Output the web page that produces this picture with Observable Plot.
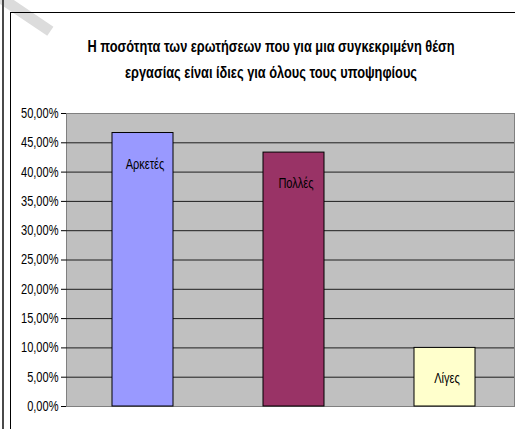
<!DOCTYPE html>
<html>
<head>
<meta charset="utf-8">
<script src="https://cdn.jsdelivr.net/npm/d3@7"></script>
<script src="https://cdn.jsdelivr.net/npm/@observablehq/plot@0.6"></script>
<style>
  html, body { margin: 0; padding: 0; background: #fff; }
  #page { position: relative; width: 515px; height: 429px; overflow: hidden; background: #fff; }
  #edge { position: absolute; left: 2px; top: 0; width: 2px; height: 429px; background: #4a4a4a; }
  #box { position: absolute; left: 10px; top: 12px; width: 560px; height: 500px;
         border-top: 1.5px solid #000; border-left: 1.5px solid #000; }
  .mark { position: absolute; background: #dcdcdc; }
  #title { position: absolute; left: 0; top: 34px; width: 542px; text-align: center;
           font-family: "Liberation Sans", Arial, sans-serif;
           font-weight: bold; font-size: 15.6px; line-height: 26px; color: #000;
           transform: scaleX(0.82); transform-origin: 271px 0; }
  #chart { position: absolute; left: 0; top: 0; }
</style>
</head>
<body>
<div id="page">
  <div class="mark" style="left:2px;top:-8px;width:62px;height:11px;transform:rotate(34deg);transform-origin:0 0;"></div>
  <div id="edge"></div>
  <div id="box"></div>
  <div id="title">Η ποσότητα των ερωτήσεων που για μια συγκεκριμένη θέση<br>εργασίας είναι ίδιες για όλους τους υποψηφίους</div>
  <div id="chart"></div>
</div>
<script>
// Answer categories and their share of responses (percent)
const categories = ["Αρκετές", "Πολλές", "Λίγες"];
const shares = [46.67, 43.33, 10.00];
const barColors = ["#9999FF", "#993366", "#FFFFCC"];
const yTicks = [0, 5, 10, 15, 20, 25, 30, 35, 40, 45, 50];

const rows = categories.map((c, i) => ({category: c, value: shares[i]}));
const pct = d => d.toFixed(2).replace(".", ",") + "%";
const font = "'Liberation Sans', Arial, sans-serif";

const chart = Plot.plot({
  width: 515,
  height: 429,
  marginTop: 113,
  marginBottom: 23,
  marginLeft: 66,
  marginRight: 1,
  style: {fontFamily: font, fontSize: "14px", color: "#000", background: "transparent"},
  x: {domain: categories, range: [66, 520], paddingInner: 0.597, paddingOuter: 0.3, axis: null},
  y: {domain: [0, 50]},
  color: {domain: categories, range: barColors},
  marks: [
    Plot.frame({fill: "#C0C0C0", stroke: "#808080"}),
    Plot.ruleY(yTicks.filter(t => t > 0 && t < 50), {stroke: "#000", strokeOpacity: 0.85}),
    Plot.axisY({ticks: yTicks, tickFormat: pct, tickSize: 5, tickPadding: 3, label: null, fontSize: 14}),
    Plot.barY(rows, {x: "category", y: "value", fill: "category", stroke: "#000", strokeWidth: 1}),
    Plot.text(rows, {x: "category", y: "value", text: "category", dy: 31, dx: 2, fontSize: 14, fill: "#000"})
  ]
});

// Narrow the lettering horizontally, keeping each label's anchor in place
chart.querySelectorAll("text").forEach(t => {
  const tr = t.getAttribute("transform") || "";
  t.setAttribute("transform", tr + " scale(0.79,1)");
});
document.getElementById("chart").appendChild(chart);
</script>
</body>
</html>
